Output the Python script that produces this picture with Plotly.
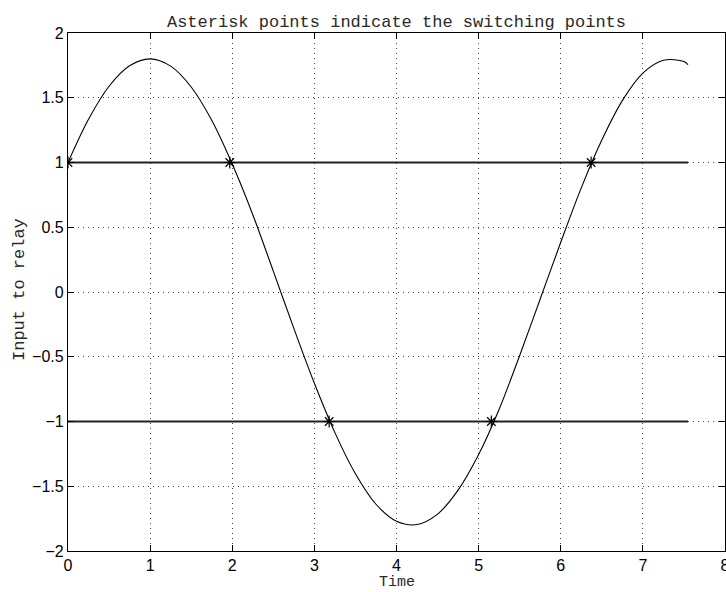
import plotly.graph_objects as go

# Input signal
time = [0, 0.25, 0.5, 0.75, 1.0, 1.25, 1.5, 1.75, 2.0, 2.25, 2.5, 2.75, 3.0, 3.25,
        3.5, 3.75, 4.0, 4.25, 4.5, 4.75, 5.0, 5.25, 5.5, 5.75, 6.0, 6.25, 6.5,
        6.75, 7.0, 7.25, 7.5, 7.55]
signal = [1.0, 1.334, 1.589, 1.747, 1.80, 1.744, 1.583, 1.326, 0.988, 0.597, 0.161,
          -0.281, -0.705, -1.086, -1.404, -1.639, -1.770, -1.796, -1.715, -1.530,
          -1.255, -0.905, -0.490, -0.054, 0.384, 0.804, 1.173, 1.478, 1.690,
          1.789, 1.780, 1.755]

# Relay thresholds
upper_t = [0, 7.55]
upper_v = [1, 1]
lower_t = [0, 7.55]
lower_v = [-1, -1]

# Switching points
switch_t = [0, 1.97, 3.18, 5.155, 6.37]
switch_v = [1, 1, -1, -1, 1]

x_ticks = [0, 1, 2, 3, 4, 5, 6, 7, 8]
y_ticks = [-2, -1.5, -1, -0.5, 0, 0.5, 1, 1.5, 2]
y_tick_text = ["\u22122", "\u22121.5", "\u22121", "\u22120.5", "0", "0.5", "1", "1.5", "2"]

mono = "Liberation Mono, Courier New, monospace"
text_col = "#2a2a2a"

fig = go.Figure()
fig.add_trace(go.Scatter(x=upper_t, y=upper_v, mode="lines",
                         line=dict(color="#222222", width=1.8), showlegend=False))
fig.add_trace(go.Scatter(x=lower_t, y=lower_v, mode="lines",
                         line=dict(color="#222222", width=1.8), showlegend=False))
fig.add_trace(go.Scatter(x=time, y=signal, mode="lines",
                         line=dict(color="black", width=1.1, shape="spline"),
                         showlegend=False))
fig.add_trace(go.Scatter(x=switch_t, y=switch_v, mode="markers",
                         marker=dict(symbol="asterisk-open", size=10, color="black",
                                     line=dict(color="black", width=1.2)),
                         showlegend=False))

axis_common = dict(
    showline=True, linecolor="black", linewidth=1.2, mirror="ticks",
    ticks="inside", ticklen=6, tickcolor="black", tickwidth=1,
    showgrid=True, gridcolor="#444444", griddash="1px,4px", gridwidth=1,
    zeroline=False, automargin=False,
    tickfont=dict(family="Liberation Sans, Arial", size=16, color="black"),
)

fig.update_layout(
    width=726, height=592,
    margin=dict(l=68, r=1, t=33, b=41),
    paper_bgcolor="white", plot_bgcolor="white",
    title=dict(text="Asterisk points indicate the switching points",
               x=396.5 / 726, xanchor="center", xref="container",
               y=1 - 21 / 592, yanchor="middle", yref="container",
               font=dict(family=mono, size=17, color=text_col)),
    xaxis=dict(range=[0, 8], tickvals=x_ticks, ticklabeloverflow="allow",
               **axis_common),
    yaxis=dict(range=[-2, 2], tickvals=y_ticks, ticktext=y_tick_text,
               **axis_common),
    annotations=[
        dict(text="Time", x=0.5, xref="paper", y=0, yref="paper",
             xanchor="center", yanchor="middle", yshift=-31, showarrow=False,
             borderpad=0, font=dict(family=mono, size=15, color=text_col)),
        dict(text="Input to relay", x=0, xref="paper", y=0.5, yref="paper",
             xanchor="center", yanchor="middle", xshift=-49, yshift=2, textangle=-90,
             showarrow=False, font=dict(family=mono, size=17, color=text_col)),
    ],
)

fig.write_html("out.html",
               config={"displayModeBar": False},
               post_script="document.body.style.margin='0';document.body.style.overflow='hidden';")
